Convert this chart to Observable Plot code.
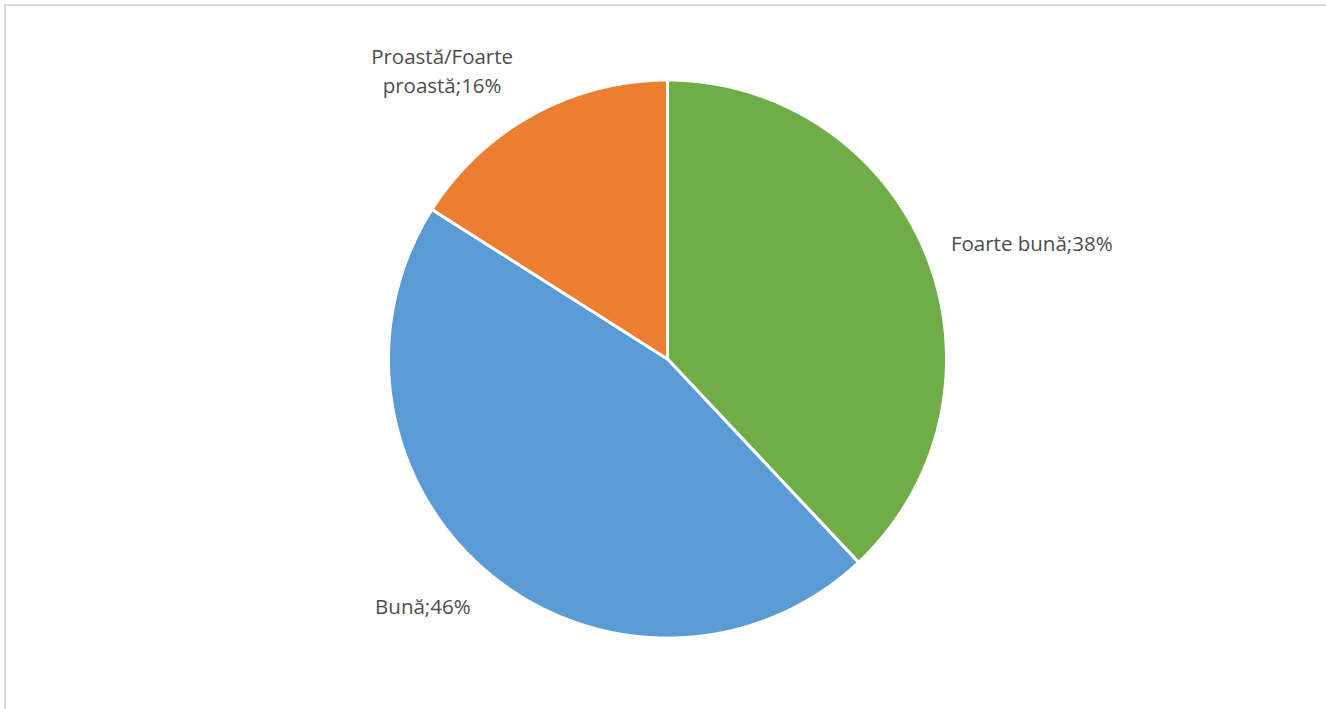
<!DOCTYPE html>
<html>
<head>
<meta charset="utf-8">
<script src="https://cdn.jsdelivr.net/npm/d3@7"></script>
<script src="https://cdn.jsdelivr.net/npm/@observablehq/plot@0.6"></script>
<style>
  html, body { margin: 0; padding: 0; background: #fff; }
  #wrap { position: relative; width: 1326px; height: 709px; overflow: hidden; }
  #frame { position: absolute; left: 4px; top: 4px; width: 1340px; height: 720px;
           border-top: 2px solid #d9d9d9; border-left: 2px solid #d9d9d9; box-sizing: border-box; }
  #chart { position: absolute; left: 0; top: 0; }
</style>
</head>
<body>
<div id="wrap"><div id="frame"></div><div id="chart"></div></div>
<script>
const categories = ["Foarte bună", "Bună", "Proastă/Foarte proastă"];
const values = [38, 46, 16];
const labelTexts = ["Foarte bună;38%", "Bună;46%", "Proastă/Foarte\nproastă;16%"];
const colors = ["#70AD47", "#5B9BD5", "#ED7D31"];

const total = d3.sum(values);
let acc = 0;
const slices = categories.map((name, i) => {
  const a0 = acc / total * 2 * Math.PI;
  acc += values[i];
  const a1 = acc / total * 2 * Math.PI;
  return {name, value: values[i], label: labelTexts[i], a0, a1, mid: (a0 + a1) / 2};
});

// polygon outline of each slice (geometry of the arc, not data)
const pts = [];
for (const s of slices) {
  pts.push({name: s.name, x: 0, y: 0});
  const n = Math.max(8, Math.ceil((s.a1 - s.a0) / 0.005));
  for (let k = 0; k <= n; k++) {
    const a = s.a0 + (s.a1 - s.a0) * k / n;
    pts.push({name: s.name, x: Math.sin(a), y: Math.cos(a)});
  }
  pts.push({name: s.name, x: 0, y: 0});
}

const lab = slices.map(s => ({name: s.name, label: s.label, x: Math.sin(s.mid), y: Math.cos(s.mid)}));
const font = "'Open Sans', sans-serif";
const txt = (name, opts) => Plot.text(lab.filter(d => d.name === name), {
  x: "x", y: "y", text: "label", fill: "#4d4d4d", fontSize: 20.5, fontFamily: font,
  lineHeight: 1.42, lineAnchor: "middle", ...opts
});

const chart = Plot.plot({
  width: 1326,
  height: 709,
  x: {domain: [-1, 1], range: [388, 946], axis: null},
  y: {domain: [-1, 1], range: [637.5, 79.5], axis: null},
  color: {domain: categories, range: colors},
  style: {background: "transparent"},
  marks: [
    Plot.line(pts, {x: "x", y: "y", z: "name", fill: "name", stroke: "white", strokeWidth: 3, strokeLinejoin: "miter"}),
    txt("Foarte bună", {textAnchor: "start", dx: 24, dy: -15}),
    txt("Bună", {textAnchor: "end", dx: -19, dy: 31}),
    txt("Proastă/Foarte proastă", {textAnchor: "middle", dx: -91, dy: -45})
  ]
});
document.getElementById("chart").appendChild(chart);
</script>
</body>
</html>
